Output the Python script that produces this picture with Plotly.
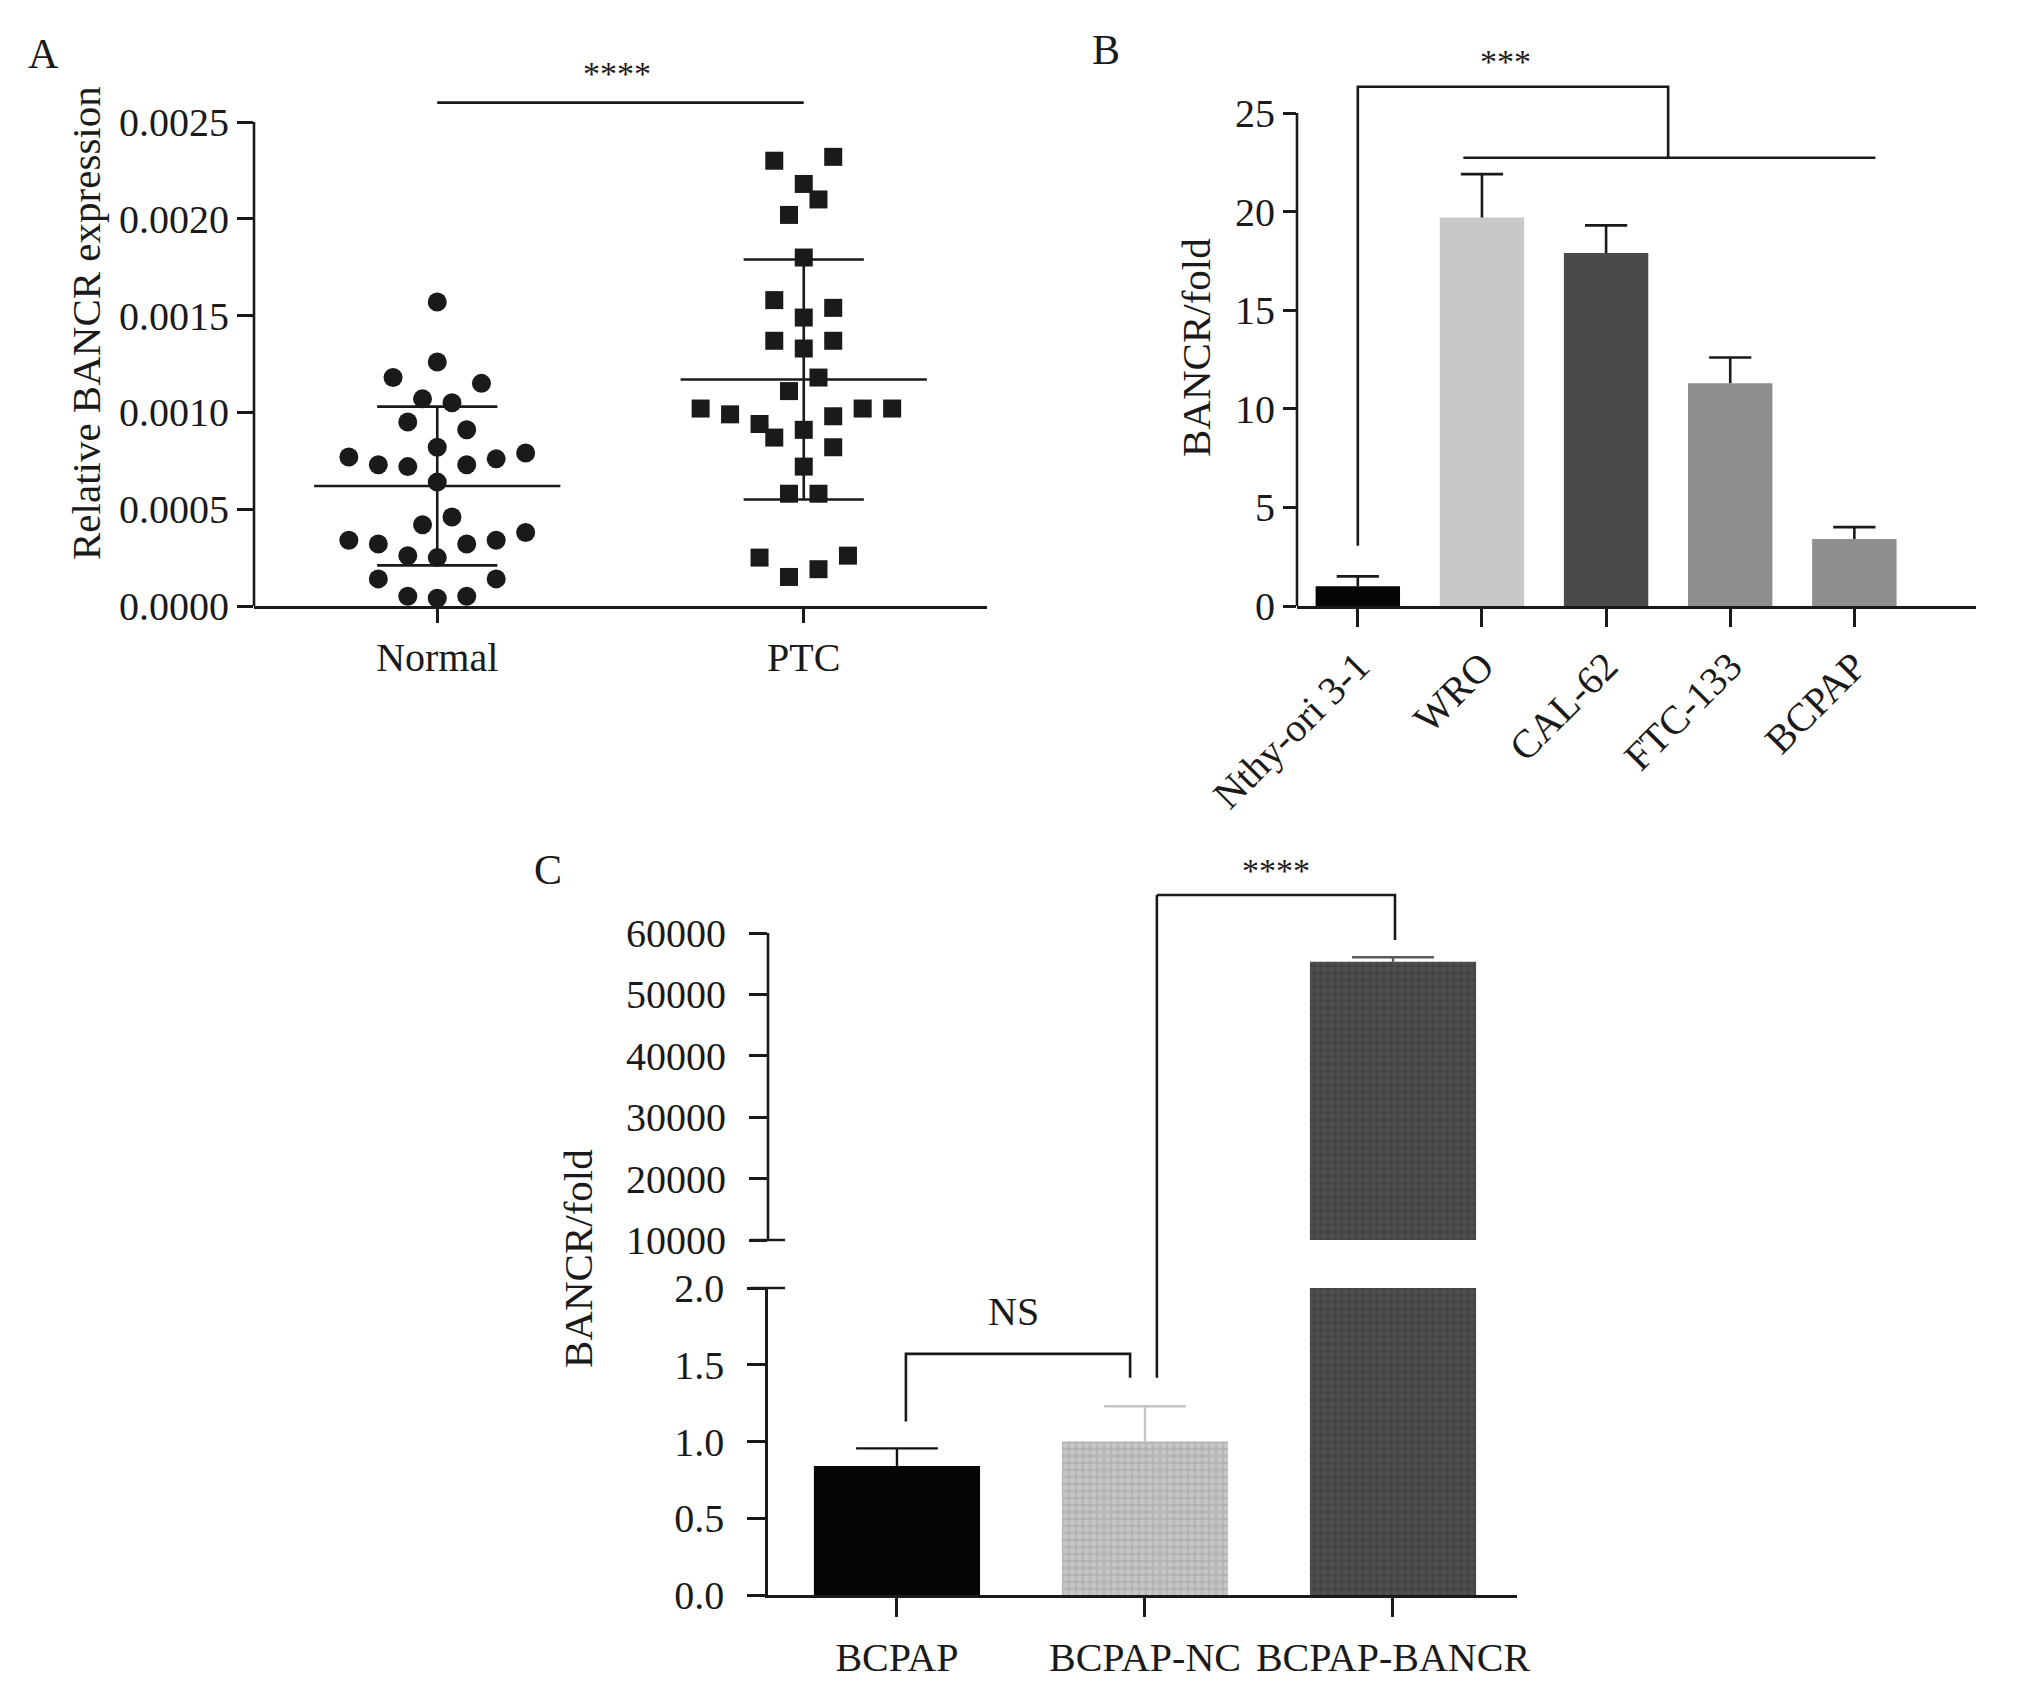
import plotly.graph_objects as go

W, H = 2031, 1688
FONT = "Liberation Serif"
INK = "#1a1a1a"

# ---- panel A: relative BANCR expression in tissue ----
groups_a = ["Normal", "PTC"]
normal_expr = [0.00157, 0.00126, 0.00118, 0.00115, 0.00107, 0.00105, 0.00095, 0.00091,
               0.00082, 0.00077, 0.00079, 0.00073, 0.00072, 0.00073, 0.00076, 0.00064,
               0.00046, 0.00042, 0.00034, 0.00038, 0.00032, 0.00032, 0.00034, 0.00026,
               0.00025, 0.00014, 0.00014, 0.00005, 0.00004, 0.00005]
ptc_expr = [0.00230, 0.00232, 0.00218, 0.00210, 0.00202, 0.00180, 0.00158, 0.00154,
            0.00149, 0.00137, 0.00137, 0.00133, 0.00118, 0.00111, 0.00102, 0.00099,
            0.00094, 0.00087, 0.00091, 0.00098, 0.00102, 0.00102, 0.00082, 0.00072,
            0.00058, 0.00058, 0.00025, 0.00026, 0.00015, 0.00019]
# column spread of each dot (half-dot steps), as GraphPad laid them out
normal_slots = [0, 0, -3, 3, -1, 1, -2, 2, 0, -6, 6, -4, -2, 2, 4, 0,
                1, -1, -6, 6, -4, 2, 4, -2, 0, -4, 4, -2, 0, 2]
ptc_slots = [-2, 2, 0, 1, -1, 0, -2, 2, 0, -2, 2, 0, 1, -1, -7, -5,
             -3, -2, 0, 2, 4, 6, 2, 0, -1, 1, -3, 3, -1, 1]
group_mean = [0.00062, 0.00117]
group_sd = [0.00041, 0.00062]

# ---- panel B: cell lines ----
cell_lines = ["Nthy-ori 3-1", "WRO", "CAL-62", "FTC-133", "BCPAP"]
cell_fold = [1.0, 19.7, 17.9, 11.3, 3.4]
cell_err = [0.5, 2.2, 1.4, 1.3, 0.6]
cell_colors = ["#050505", "#c8c8c8", "#4a4a4a", "#8e8e8e", "#8e8e8e"]

# ---- panel C: transfected BCPAP ----
transfected = ["BCPAP", "BCPAP-NC", "BCPAP-BANCR"]
transfected_fold = [0.84, 1.0, 55300]
transfected_err = [0.115, 0.23, 750]
transfected_colors = ["#050505", "#b4b4b4", "#444444"]
transfected_dots = ["#050505", "#d8d8d8", "#5a5a5a"]
transfected_errcolors = ["#111111", "#c4c4c4", "#5a5a5a"]

# panel geometry in pixels
A_L, A_R, A_TOP, A_ZERO, A_REF = 254, 987, 30, 606, 122      # 0.0025 at A_REF
B_L, B_R, B_TOP, B_ZERO, B_REF = 1297, 1976, 30, 606, 113    # 25 at B_REF
C_L, C_R = 768, 1517
C_LO_TOP, C_LO_ZERO = 1288, 1595                             # 0 .. 2.0
C_UP_TOP, C_UP_BOT, C_UP_REF = 840, 1240, 933                # 10000 at bottom, 60000 at ref
C_LO_MAX, C_UP_MIN, C_UP_REFV = 2.0, 10000, 60000


def dom_x(l, r):
    return [l / W, r / W]


def dom_y(top, bottom):
    return [1 - bottom / H, 1 - top / H]


def value_at(px, base_px, base_val, ref_px, ref_val):
    return base_val + (ref_val - base_val) * (base_px - px) / (base_px - ref_px)


def err_path(x, v, e, cap):
    return [x, x, None, x - cap, x + cap], [v, v + e, None, v + e, v + e]


a_top = value_at(A_TOP, A_ZERO, 0, A_REF, 0.0025)
b_top = value_at(B_TOP, B_ZERO, 0, B_REF, 25)
c_up_top = value_at(C_UP_TOP, C_UP_BOT, C_UP_MIN, C_UP_REF, C_UP_REFV)

fig = go.Figure()
line = dict(color=INK, width=2.6)

# A: dots
step = 0.0402
fig.add_trace(go.Scatter(
    x=[0 + s * step for s in normal_slots], y=normal_expr, mode="markers",
    marker=dict(symbol="circle", size=19, color=INK), xaxis="x", yaxis="y"))
fig.add_trace(go.Scatter(
    x=[1 + s * step for s in ptc_slots], y=ptc_expr, mode="markers",
    marker=dict(symbol="square", size=18, color=INK), xaxis="x", yaxis="y"))
for i, (m, sd) in enumerate(zip(group_mean, group_sd)):
    xs = [i - 0.336, i + 0.336, None, i - 0.164, i + 0.164, None,
          i - 0.164, i + 0.164, None, i, i]
    ys = [m, m, None, m + sd, m + sd, None, m - sd, m - sd, None, m - sd, m + sd]
    fig.add_trace(go.Scatter(x=xs, y=ys, mode="lines", line=line, xaxis="x", yaxis="y"))
fig.add_trace(go.Scatter(x=[0, 1], y=[0.0026, 0.0026], mode="lines", line=line,
                         xaxis="x", yaxis="y"))

# B: bars
b_x = list(range(len(cell_lines)))
fig.add_trace(go.Bar(x=b_x, y=cell_fold, width=0.68, marker=dict(color=cell_colors, line_width=0),
                     xaxis="x2", yaxis="y2"))
for i, (v, e) in enumerate(zip(cell_fold, cell_err)):
    xs, ys = err_path(i, v, e, 0.17)
    fig.add_trace(go.Scatter(x=xs, y=ys, mode="lines", line=line, xaxis="x2", yaxis="y2"))
fig.add_trace(go.Scatter(x=[0, 0, 2.5, 2.5], y=[3.05, 26.33, 26.33, 22.73], mode="lines",
                         line=line, xaxis="x2", yaxis="y2"))
fig.add_trace(go.Scatter(x=[0.85, 4.17], y=[22.73, 22.73], mode="lines", line=line,
                         xaxis="x2", yaxis="y2"))

# C: broken-axis bars, lower (x3/y3) and upper (x4/y4) segments
for xa, ya in (("x3", "y3"), ("x4", "y4")):
    for i, v in enumerate(transfected_fold):
        pattern = dict(shape="." if i else "", fgcolor=transfected_dots[i],
                       bgcolor=transfected_colors[i], size=7, solidity=0.5)
        fig.add_trace(go.Bar(
            x=[i], y=[v], width=0.67, xaxis=xa, yaxis=ya,
            marker=dict(color=transfected_colors[i], line_width=0, pattern=pattern)))
        xs, ys = err_path(i, v, transfected_err[i], 0.165)
        fig.add_trace(go.Scatter(x=xs, y=ys, mode="lines", xaxis=xa, yaxis=ya,
                                 line=dict(color=transfected_errcolors[i], width=2.4)))
fig.add_trace(go.Scatter(x=[0.036, 0.036, 0.94, 0.94], y=[1.13, 1.571, 1.571, 1.416],
                         mode="lines", line=line, xaxis="x3", yaxis="y3"))
fig.add_trace(go.Scatter(x=[1.048, 2.008, 2.008], y=[66190, 66190, 58860], mode="lines",
                         line=line, xaxis="x4", yaxis="y4"))

# long leg of the **** bracket crosses the axis break
leg_lo = value_at(1.416, 0, C_LO_ZERO, C_LO_MAX, C_LO_TOP)
leg_hi = value_at(66190, C_UP_MIN, C_UP_BOT, C_UP_REFV, C_UP_REF)
shapes = [
    dict(type="line", xref="x3", yref="paper", x0=1.048, x1=1.048,
         y0=1 - leg_lo / H, y1=1 - leg_hi / H, line=line),
    # y axis lines that stop at the last tick
    dict(type="line", xref="x domain", yref="y", x0=0, x1=0, y0=0, y1=0.0025, line=line),
    dict(type="line", xref="x2 domain", yref="y2", x0=0, x1=0, y0=0, y1=25, line=line),
    dict(type="line", xref="x4 domain", yref="y4", x0=0, x1=0, y0=C_UP_MIN, y1=C_UP_REFV,
         line=line),
    # break marks
    dict(type="line", xref="paper", yref="paper", x0=(C_L - 17) / W, x1=(C_L + 17) / W,
         y0=1 - C_LO_TOP / H, y1=1 - C_LO_TOP / H, line=line),
    dict(type="line", xref="paper", yref="paper", x0=(C_L - 17) / W, x1=(C_L + 17) / W,
         y0=1 - C_UP_BOT / H, y1=1 - C_UP_BOT / H, line=line),
]

tick_font = dict(family=FONT, size=40, color=INK)
base_axis = dict(showgrid=False, zeroline=False, linecolor=INK, linewidth=2.6,
                 ticks="outside", tickcolor=INK, tickwidth=2.6, tickfont=tick_font,
                 fixedrange=True, automargin=False)

fig.update_layout(
    width=W, height=H, margin=dict(l=0, r=0, t=0, b=0, pad=0, autoexpand=False),
    paper_bgcolor="white", plot_bgcolor="white", showlegend=False,
    font=dict(family=FONT, color=INK),
    xaxis=dict(base_axis, domain=dom_x(A_L, A_R), range=[-0.5, 1.5], showline=True,
               tickvals=[0, 1], ticktext=groups_a, ticklen=14, tickangle=0, anchor="y"),
    yaxis=dict(base_axis, domain=dom_y(A_TOP, A_ZERO), range=[0, a_top], showline=False,
               tickvals=[0, 0.0005, 0.001, 0.0015, 0.002, 0.0025], tickformat=".4f",
               ticklen=16, anchor="x"),
    xaxis2=dict(base_axis, domain=dom_x(B_L, B_R), range=[-0.49, 4.98], showline=True,
                tickvals=b_x, ticktext=cell_lines, tickangle=-45, ticklen=18, anchor="y2"),
    yaxis2=dict(base_axis, domain=dom_y(B_TOP, B_ZERO), range=[0, b_top], showline=False,
                tickvals=[0, 5, 10, 15, 20, 25], ticklen=13, anchor="x2"),
    xaxis3=dict(base_axis, domain=dom_x(C_L, C_R), range=[-0.52, 2.5], showline=True,
                tickvals=list(range(len(transfected))), ticktext=transfected, ticklen=19,
                ticklabelstandoff=6, tickangle=0, anchor="y3"),
    yaxis3=dict(base_axis, domain=dom_y(C_LO_TOP, C_LO_ZERO), range=[0, C_LO_MAX],
                showline=True, tickvals=[0, 0.5, 1, 1.5, 2], tickformat=".1f", ticklen=18,
                ticklabelstandoff=15, anchor="x3"),
    xaxis4=dict(domain=dom_x(C_L, C_R), range=[-0.52, 2.5], visible=False, anchor="y4",
                fixedrange=True),
    yaxis4=dict(base_axis, domain=dom_y(C_UP_TOP, C_UP_BOT), range=[C_UP_MIN, c_up_top],
                showline=False, tickvals=[10000, 20000, 30000, 40000, 50000, 60000],
                tickformat="d", ticklen=18, ticklabelstandoff=15, anchor="x4"),
    shapes=shapes,
)

title_font = dict(family=FONT, size=41, color=INK)
letter_font = dict(family=FONT, size=42, color=INK)
star_font = dict(family=FONT, size=34, color=INK)


def px_note(text, x, y, font, angle=0):
    fig.add_annotation(text=text, x=x / W, y=1 - y / H, xref="paper", yref="paper",
                       showarrow=False, font=font, textangle=angle,
                       xanchor="center", yanchor="middle")


px_note("Relative BANCR expression", 86, 323, title_font, -90)
px_note("BANCR/fold", 1196, 348, title_font, -90)
px_note("BANCR/fold", 578, 1259, title_font, -90)
px_note("A", 43, 54, letter_font)
px_note("B", 1106, 50, letter_font)
px_note("C", 548, 870, letter_font)

fig.add_annotation(text="****", x=0.49, y=0.00279, xref="x", yref="y", showarrow=False,
                   font=star_font, yshift=-8)
fig.add_annotation(text="***", x=1.19, y=28.0, xref="x2", yref="y2", showarrow=False,
                   font=star_font, yshift=-8)
fig.add_annotation(text="****", x=1.53, y=71400, xref="x4", yref="y4", showarrow=False,
                   font=star_font, yshift=-8)
fig.add_annotation(text="NS", x=0.47, y=1.844, xref="x3", yref="y3", showarrow=False,
                   font=dict(family=FONT, size=40, color=INK))

fig.write_html("out.html", post_script="document.body.style.margin='0';",
               config={"displayModeBar": False})
